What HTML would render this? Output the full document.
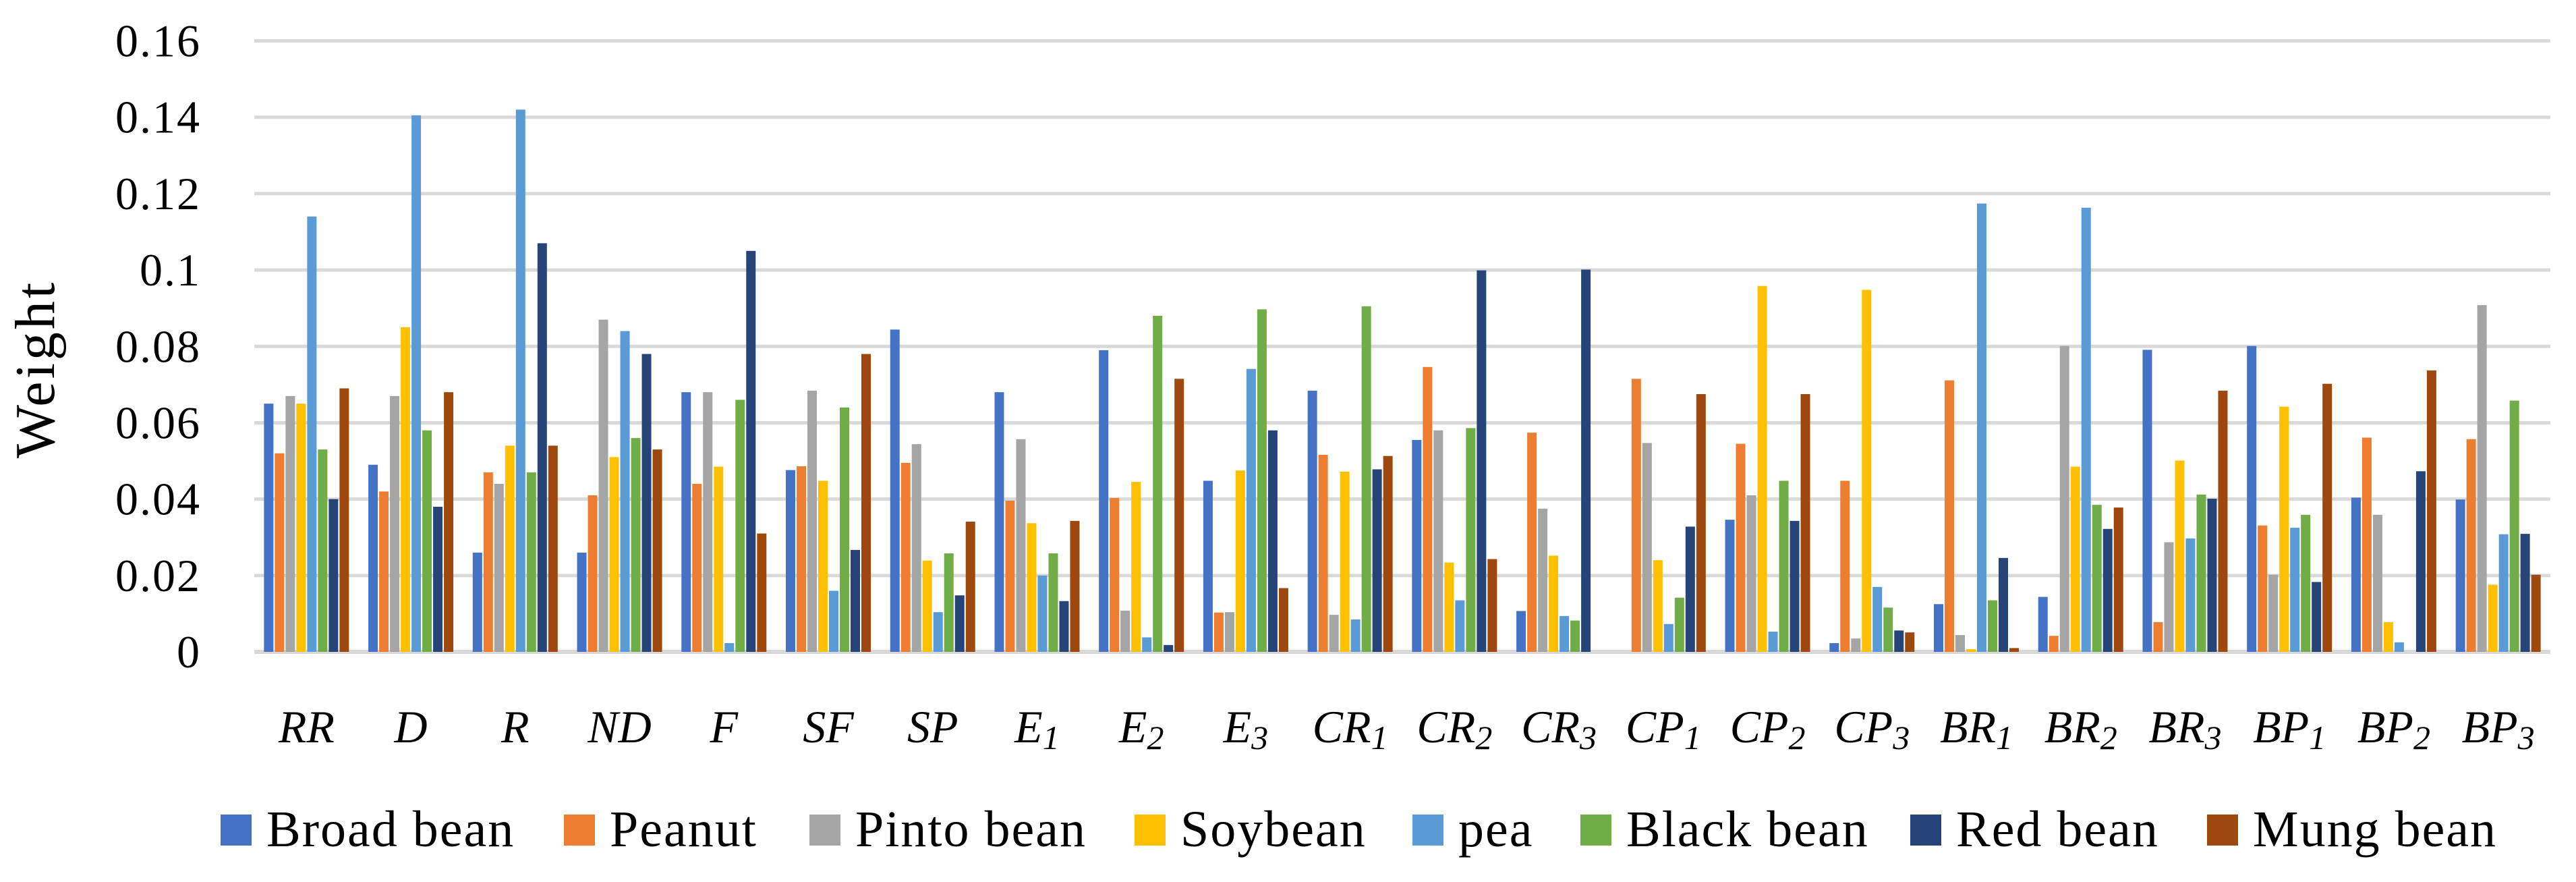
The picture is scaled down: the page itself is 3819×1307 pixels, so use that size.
<!DOCTYPE html>
<html><head><meta charset="utf-8"><style>
html,body{margin:0;padding:0;background:#fff;}
svg{display:block;font-family:"Liberation Serif",serif;}
</style></head><body>
<svg id="chart" width="3819" height="1307" viewBox="0 0 3819 1307" xmlns="http://www.w3.org/2000/svg">
<g id="grid"></g>
<g id="ylabels"></g>
<text x="0" y="0" transform="translate(80,547) rotate(-90)" font-size="84" letter-spacing="4" text-anchor="middle">Weight</text>
<g id="bars"></g>
<g id="xlabels"></g>
<g id="legend"></g>
</svg>
<script>
const categories=[["RR",""],["D",""],["R",""],["ND",""],["F",""],["SF",""],["SP",""],["E","1"],["E","2"],["E","3"],["CR","1"],["CR","2"],["CR","3"],["CP","1"],["CP","2"],["CP","3"],["BR","1"],["BR","2"],["BR","3"],["BP","1"],["BP","2"],["BP","3"]];
const seriesNames=["Broad bean","Peanut","Pinto bean","Soybean","pea","Black bean","Red bean","Mung bean"];
const seriesColors=["#4472c4","#ed7d31","#a5a5a5","#ffc000","#5b9bd5","#70ad47","#264478","#9e480e"];
const broadBean=[.065,.049,.026,.026,.068,.0476,.0844,.068,.079,.0448,.0684,.0555,.0107,0,.0346,.0023,.0125,.0144,.0791,.0801,.0404,.0399];
const peanut=[.052,.042,.047,.041,.044,.0486,.0495,.0396,.0403,.0103,.0516,.0746,.0574,.0715,.0545,.0448,.0711,.0042,.0078,.0331,.0561,.0557];
const pintoBean=[.067,.067,.044,.087,.068,.0684,.0544,.0557,.0108,.0104,.0097,.058,.0375,.0547,.041,.0035,.0044,.0801,.0287,.0202,.0359,.0908];
const soybean=[.065,.085,.054,.051,.0485,.0448,.0239,.0337,.0445,.0475,.0472,.0234,.0252,.024,.0958,.0948,.0007,.0485,.0501,.0642,.0078,.0176];
const pea=[.114,.1405,.142,.084,.0023,.016,.0104,.020,.0038,.0741,.0085,.0135,.0094,.0073,.0053,.017,.1174,.1163,.0297,.0325,.0025,.0308];
const blackBean=[.053,.058,.047,.056,.066,.064,.0258,.0258,.088,.0897,.0905,.0586,.0082,.0142,.0448,.0116,.0135,.0385,.0412,.0359,0,.0658];
const redBean=[.040,.038,.107,.078,.105,.0267,.0148,.0133,.0018,.058,.0478,.0999,.1001,.0328,.0343,.0056,.0246,.0322,.0401,.0183,.0473,.0309];
const mungBean=[.069,.068,.054,.053,.031,.078,.0341,.0343,.0715,.0167,.0513,.0243,0,.0675,.0675,.0051,.001,.0378,.0684,.0702,.0737,.0202];
const allSeries=[broadBean,peanut,pintoBean,soybean,pea,blackBean,redBean,mungBean];
const yTicks=["0","0.02","0.04","0.06","0.08","0.1","0.12","0.14","0.16"];
const legendX=[327,836,1200,1682,2094,2343,2832,3272];

const NS="http://www.w3.org/2000/svg";
const X0=377,X1=3781,Y0=966,Y1=60.5,YMAX=0.16;
const catW=(X1-X0)/categories.length, slot=16, barW=14;
function y(v){return Y0-(v/YMAX)*(Y0-Y1);}
function xc(i){return X0+catW*(i+0.5);}
function mk(tag,attrs,parent){const e=document.createElementNS(NS,tag);for(const k in attrs)e.setAttribute(k,attrs[k]);parent.appendChild(e);return e;}
const grid=document.getElementById('grid'),yl=document.getElementById('ylabels'),bars=document.getElementById('bars'),xl=document.getElementById('xlabels'),lg=document.getElementById('legend');
yTicks.forEach((t,i)=>{
  const v=parseFloat(t);
  const l=mk('line',{x1:X0,x2:X1,y1:y(v),y2:y(v),stroke:'#d9d9d9','stroke-width':i==0?6:5},grid);
  
  
  const tx=mk('text',{x:298,y:y(v)+23,'font-size':68,'letter-spacing':2,'text-anchor':'end',fill:'#000'},yl);
  tx.textContent=t;
  
  
});
allSeries.forEach((s,si)=>{
  s.forEach((v,ci)=>{
    const x=xc(ci)-4*slot+si*slot+(slot-barW)/2;
    const r=mk('rect',{x:x,y:y(v),width:barW,height:Math.max(0,Y0-y(v)),fill:seriesColors[si]},bars);
    
    
  });
});
categories.forEach((c,i)=>{
  const t=mk('text',{x:xc(i),y:1100,'font-size':68,'font-style':'italic','text-anchor':'middle'},xl);
  
  
  t.appendChild(document.createTextNode(c[0]));
  if(c[1]){const s=mk('tspan',{'font-size':50,dy:10},t);s.textContent=c[1];}
});
seriesNames.forEach((n,i)=>{
  const g=mk('g',{},lg);
  
  
  mk('rect',{x:legendX[i],y:1207,width:46,height:46,fill:seriesColors[i]},g);
  const t=mk('text',{x:legendX[i]+68,y:1254,'font-size':76,'letter-spacing':2},g);
  t.textContent=n;
});
</script>
</body></html>
